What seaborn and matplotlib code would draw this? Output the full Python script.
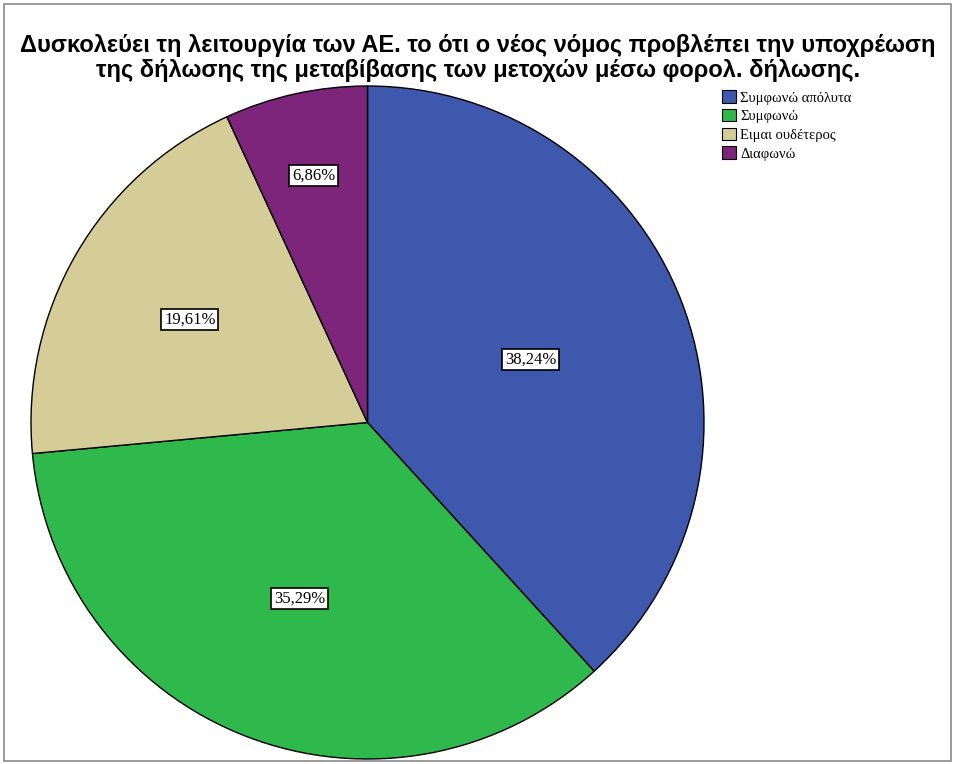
import numpy as np
import matplotlib
matplotlib.use("Agg")
import matplotlib.pyplot as plt
import seaborn as sns

# data
categories = ["Συμφωνώ απόλυτα", "Συμφωνώ", "Ειμαι ουδέτερος", "Διαφωνώ"]
percents = [38.24, 35.29, 19.61, 6.86]
pct_labels = ["38,24%", "35,29%", "19,61%", "6,86%"]
title = ("Δυσκολεύει τη λειτουργία των ΑΕ. το ότι ο νέος νόμος προβλέπει την υποχρέωση\n"
         "της δήλωσης της μεταβίβασης των μετοχών μέσω φορολ. δήλωσης.")

sns.set_style("white")
plt.rcParams["text.color"] = "black"
colors = sns.color_palette(["#3d58ac", "#2fb84b", "#d5cd98", "#7c257a"])
label_dist = [0.52, 0.56, 0.61, 0.75]

fig = plt.figure(figsize=(9.54, 7.64), dpi=100)
W, H = 954, 764

# outer frame
fig.patches.append(plt.Rectangle((4 / W, 3 / H), 947 / W, 757 / H, transform=fig.transFigure,
                                 fill=False, edgecolor="#8a8a8a", linewidth=1.2))

fig.text(478 / W, 1 - 58 / H, title, ha="center", va="center", fontsize=17,
         fontweight="bold", family="Liberation Sans", linespacing=1.12, color="black")

ax = fig.add_axes([31 / W, 5 / H, 673 / W, 673 / H])
wedges, _ = ax.pie(percents, colors=colors, startangle=90, counterclock=False,
                   wedgeprops=dict(edgecolor="black", linewidth=1.0))
ax.set_aspect("equal")
ax.set_xlim(-1.0, 1.0)
ax.set_ylim(-1.0, 1.0)

for w, lab, d in zip(wedges, pct_labels, label_dist):
    ang = np.deg2rad((w.theta1 + w.theta2) / 2)
    ax.text(d * np.cos(ang), d * np.sin(ang), lab, ha="center", va="center",
            fontsize=12, family="Liberation Serif", color="black",
            bbox=dict(boxstyle="square,pad=0.15", facecolor="white",
                      edgecolor="black", linewidth=1.2))

handles = [plt.Rectangle((0, 0), 1, 1, facecolor=c, edgecolor="black", linewidth=0.8)
           for c in colors]
fig.legend(handles, categories, loc="upper left", bbox_to_anchor=(712 / W, 1 - 80 / H),
           frameon=False, prop={"family": "Liberation Serif", "size": 10.5},
           handlelength=0.95, handleheight=0.95, handletextpad=0.3, labelspacing=0.3,
           borderpad=0.2)

fig.savefig("out.png", dpi=100)
